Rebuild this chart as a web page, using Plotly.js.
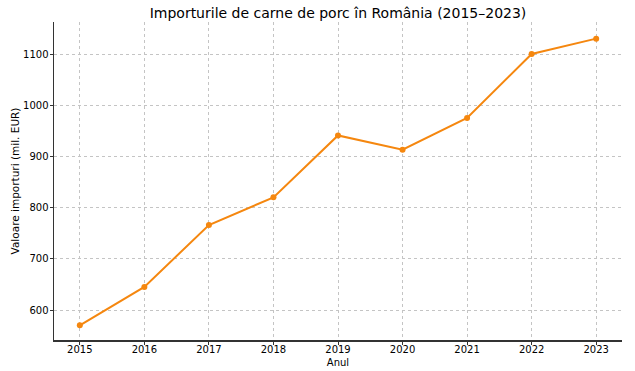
<!DOCTYPE html>
<html><head><meta charset="utf-8">
<script src="https://cdn.plot.ly/plotly-3.0.1.min.js"></script>
<style>html,body{margin:0;padding:0;background:#fff}#c{width:635px;height:371px}</style>
</head><body><div id="c"></div>
<script>
const years = [2015, 2016, 2017, 2018, 2019, 2020, 2021, 2022, 2023];
const imports = [570, 645, 766, 820, 941, 913, 975, 1100, 1130];
const yTicks = [600, 700, 800, 900, 1000, 1100];

const trace = {
  x: years, y: imports, type: 'scatter', mode: 'lines+markers',
  line: {color: '#f5870f', width: 2},
  marker: {color: '#f5870f', size: 6},
  hoverinfo: 'x+y'
};
const FF = 'DejaVu Sans, sans-serif';
const font = {family: FF, size: 10, color: '#000'};
const layout = {
  width: 635, height: 371,
  margin: {l: 54, r: 13, t: 22, b: 31},
  paper_bgcolor: '#fff', plot_bgcolor: '#fff',
  showlegend: false,
  font: font,
  title: {text: 'Importurile de carne de porc în România (2015–2023)', font: {family: FF, size: 14, color: '#000'}, xref: 'paper', x: 0.5, xanchor: 'center', y: 0.965, yanchor: 'middle'},
  xaxis: {
    range: [2014.6, 2023.4], tickvals: years, ticktext: years.map(String),
    showline: true, linecolor: '#333', linewidth: 1.5, mirror: false,
    ticks: 'outside', ticklen: 3, tickcolor: '#333', ticklabelstandoff: -4,
    showgrid: true, gridcolor: '#c4c4c4', griddash: 'dot', gridwidth: 1,
    zeroline: false, tickfont: font,
    title: {text: 'Anul', font: {family: FF, size: 10, color: '#000'}, standoff: 5}
  },
  yaxis: {
    range: [541.4, 1162.5], tickvals: yTicks,
    showline: true, linecolor: '#333', linewidth: 1.5, mirror: false,
    ticks: 'outside', ticklen: 3, tickcolor: '#333', ticklabelstandoff: -1,
    showgrid: true, gridcolor: '#c4c4c4', griddash: 'dot', gridwidth: 1,
    zeroline: false, tickfont: font,
    title: {text: 'Valoare importuri (mil. EUR)', font: {family: FF, size: 10.5, color: '#000'}, standoff: 1}
  }
};
Plotly.newPlot('c', [trace], layout, {displayModeBar: false, staticPlot: true});
</script></body></html>
